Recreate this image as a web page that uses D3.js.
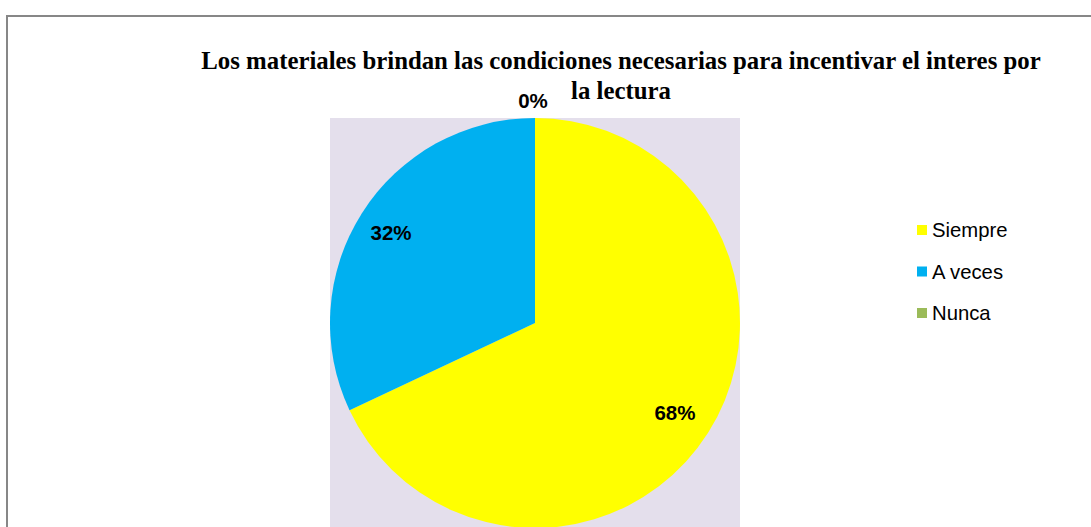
<!DOCTYPE html>
<html><head><meta charset="utf-8">
<script src="https://cdn.jsdelivr.net/npm/d3@7"></script>
<style>html,body{margin:0;padding:0;background:#fff;overflow:hidden}</style>
</head><body>
<svg id="c" width="1091" height="527"></svg>
<script>
const categories = ["Siempre", "A veces", "Nunca"];
const values = [68, 32, 0];
const colors = ["#FFFF00", "#00B0F0", "#9BBB59"];
const titleLines = ["Los materiales brindan las condiciones necesarias para incentivar el interes por", "la lectura"];

const svg = d3.select("#c");
// outer chart border (extends beyond the frame at right and bottom)
svg.append("rect").attr("x", 7).attr("y", 16).attr("width", 1100).attr("height", 540)
  .attr("fill", "#fff").attr("stroke", "#878787").attr("stroke-width", 2);

// plot area
svg.append("rect").attr("x", 330).attr("y", 118).attr("width", 410).attr("height", 420)
  .attr("fill", "#E4DFEC");

// title
const t = svg.append("text").attr("text-anchor", "middle")
  .attr("font-family", "'Liberation Serif','Times New Roman',serif")
  .attr("font-weight", "bold").attr("font-size", 24.8).attr("fill", "#000");
titleLines.forEach((l, i) => t.append("tspan").attr("x", 621).attr("y", 69 + i * 29.5).text(l));

const cx = 535, cy = 323, R = 205;
const pie = d3.pie().sort(null).value(d => d.v);
const data = pie(categories.map((c, i) => ({c, v: values[i], col: colors[i]})));
const arc = d3.arc().innerRadius(0).outerRadius(R);
const g = svg.append("g").attr("transform", `translate(${cx},${cy})`);
g.selectAll("path").data(data).join("path").attr("d", arc).attr("fill", d => d.data.col);

const total = d3.sum(values);
const inArc = d3.arc().innerRadius(R * 0.82).outerRadius(R * 0.82);
const outArc = d3.arc().innerRadius(R * 1.085).outerRadius(R * 1.085);
g.selectAll("text.lbl").data(data).join("text").attr("class", "lbl")
  .attr("transform", d => {
    const p = (d.data.v === 0 ? outArc : inArc).centroid(d);
    return `translate(${p[0] - 2},${p[1]})`;
  })
  .attr("dy", "0.36em").attr("text-anchor", "middle")
  .attr("font-family", "'Liberation Sans',Arial,sans-serif").attr("font-weight", "bold")
  .attr("font-size", 20.5).attr("fill", "#000")
  .text(d => Math.round(d.data.v / total * 100) + "%");

// legend
const lg = svg.append("g");
const ly = d3.scalePoint().domain(categories).range([230, 313]);
categories.forEach((c, i) => {
  lg.append("rect").attr("x", 917).attr("y", ly(c) - 5).attr("width", 10).attr("height", 10).attr("fill", colors[i]);
  lg.append("text").attr("x", 932).attr("y", ly(c)).attr("dy", "0.36em")
    .attr("font-family", "'Liberation Sans',Arial,sans-serif").attr("font-size", 20.3)
    .attr("fill", "#000").text(c);
});
</script>
</body></html>
